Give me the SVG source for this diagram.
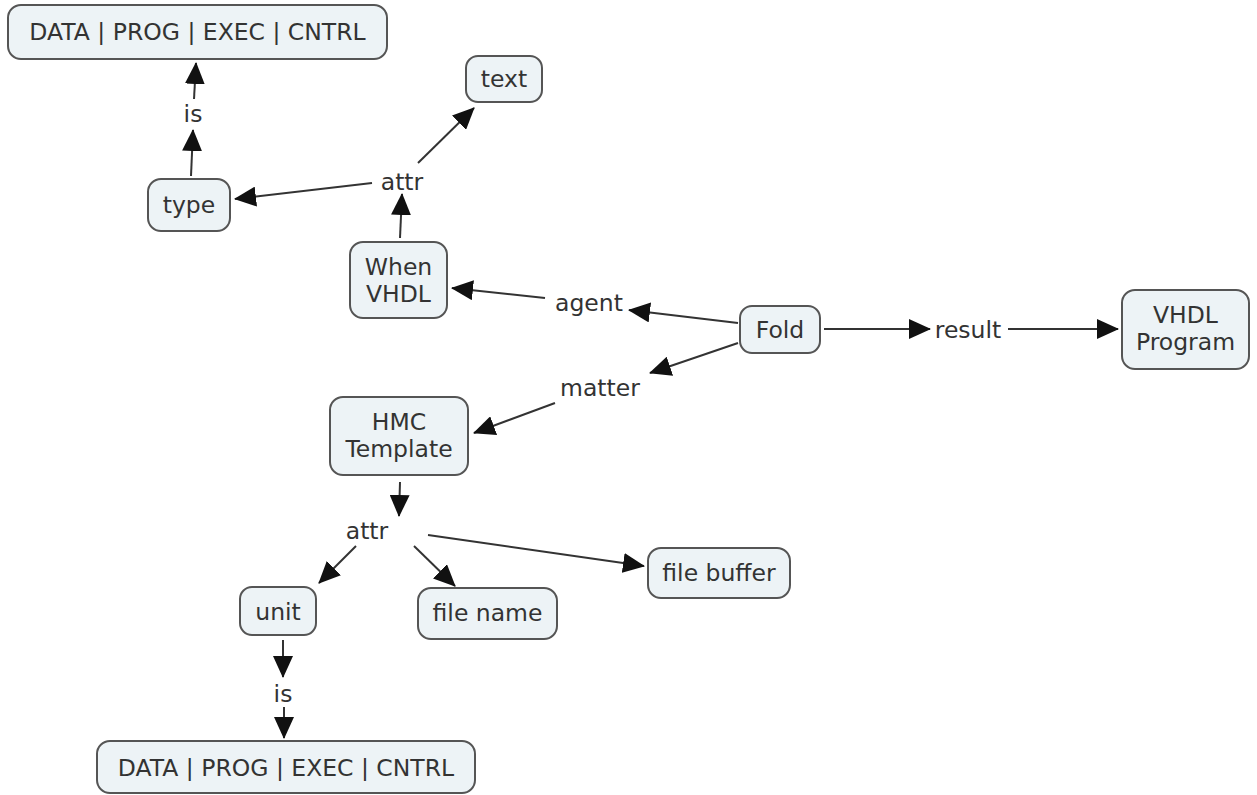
<svg xmlns="http://www.w3.org/2000/svg" width="1257" height="795" viewBox="0 0 1257 795">
  <style>
    .node rect { fill: #edf3f6; stroke: #555; stroke-width: 2; }
    text { font-family: "DejaVu Sans", Verdana, sans-serif; font-size: 23.5px; fill: #333; text-anchor: middle; }
    .conn line { stroke: #333; stroke-width: 2; fill: none; marker-end: url(#arrow); }
  </style>
  <defs>
    <marker id="arrow" markerUnits="userSpaceOnUse" markerWidth="22" markerHeight="20" refX="21" refY="10" orient="auto">
      <path d="M0,0 L22,10 L0,20 z" fill="#111"/>
    </marker>
  </defs>
  <rect width="1257" height="795" fill="#fff"/>

  <g id="connectors" class="conn">
    <line x1="191" y1="176" x2="193" y2="130"/>
    <line x1="194" y1="99" x2="196" y2="63"/>
    <line x1="372" y1="183" x2="235" y2="199"/>
    <line x1="418" y1="163" x2="474" y2="108"/>
    <line x1="400" y1="238" x2="402" y2="194"/>
    <line x1="738" y1="323" x2="629" y2="310"/>
    <line x1="545" y1="298" x2="452" y2="288"/>
    <line x1="738" y1="343" x2="650" y2="373"/>
    <line x1="555" y1="403" x2="474" y2="433"/>
    <line x1="824" y1="329" x2="930" y2="329"/>
    <line x1="1008" y1="329" x2="1118" y2="329"/>
    <line x1="400" y1="482" x2="399" y2="516"/>
    <line x1="356" y1="546" x2="319" y2="583"/>
    <line x1="414" y1="546" x2="455" y2="586"/>
    <line x1="428" y1="535" x2="644" y2="566"/>
    <line x1="283" y1="640" x2="283" y2="677"/>
    <line x1="284" y1="707" x2="284" y2="738"/>
  </g>

  <g id="labels">
    <text x="193" y="122">is</text>
    <text x="402" y="190">attr</text>
    <text x="589" y="311">agent</text>
    <text x="600" y="396">matter</text>
    <text x="968" y="338">result</text>
    <text x="367" y="539">attr</text>
    <text x="283" y="702">is</text>
  </g>

  <g id="n-data-top" class="node">
    <rect x="8" y="5" width="379" height="54" rx="13"/>
    <text x="197.5" y="40">DATA | PROG | EXEC | CNTRL</text>
  </g>
  <g id="n-type" class="node">
    <rect x="148" y="179" width="82" height="52" rx="13"/>
    <text x="189" y="213">type</text>
  </g>
  <g id="n-text" class="node">
    <rect x="466" y="56" width="76" height="46" rx="12"/>
    <text x="504" y="87">text</text>
  </g>
  <g id="n-when-vhdl" class="node">
    <rect x="350" y="242" width="97" height="76" rx="13"/>
    <text x="398.5" y="275">When</text>
    <text x="398.5" y="302">VHDL</text>
  </g>
  <g id="n-fold" class="node">
    <rect x="740" y="306" width="80" height="47" rx="12"/>
    <text x="780" y="338">Fold</text>
  </g>
  <g id="n-vhdl-program" class="node">
    <rect x="1122" y="290" width="127" height="79" rx="13"/>
    <text x="1185.5" y="323">VHDL</text>
    <text x="1185.5" y="350">Program</text>
  </g>
  <g id="n-hmc-template" class="node">
    <rect x="330" y="397" width="138" height="78" rx="13"/>
    <text x="399" y="430">HMC</text>
    <text x="399" y="457">Template</text>
  </g>
  <g id="n-file-buffer" class="node">
    <rect x="648" y="548" width="142" height="50" rx="13"/>
    <text x="719" y="581">file buffer</text>
  </g>
  <g id="n-unit" class="node">
    <rect x="240" y="587" width="76" height="48" rx="12"/>
    <text x="278" y="620">unit</text>
  </g>
  <g id="n-file-name" class="node">
    <rect x="418" y="588" width="139" height="51" rx="13"/>
    <text x="487.5" y="621">file name</text>
  </g>
  <g id="n-data-bottom" class="node">
    <rect x="97" y="741" width="378" height="52" rx="13"/>
    <text x="286" y="776">DATA | PROG | EXEC | CNTRL</text>
  </g>
</svg>
